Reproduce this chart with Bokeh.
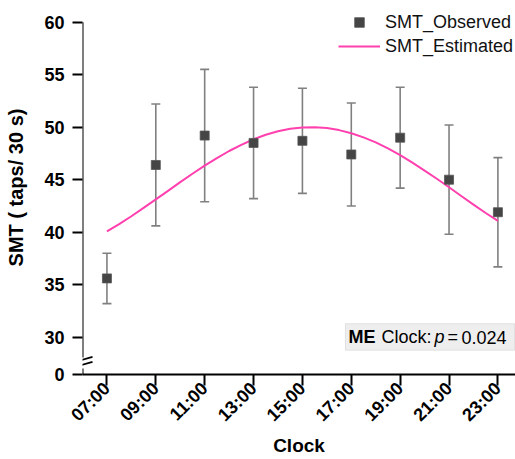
import math

from bokeh.plotting import figure
from bokeh.models import (ColumnDataSource, Whisker, TeeHead, Range1d, FixedTicker,
                          Legend, LegendItem, Label, Arrow, BoxAnnotation)
from bokeh.embed import file_html
from bokeh.resources import INLINE

# ---- data -------------------------------------------------------------
clock_hours = [7, 9, 11, 13, 15, 17, 19, 21, 23]
clock_labels = ["07:00", "09:00", "11:00", "13:00", "15:00", "17:00", "19:00", "21:00", "23:00"]
smt_observed = [35.6, 46.4, 49.2, 48.5, 48.7, 47.4, 49.0, 45.0, 41.9]
smt_error = [2.4, 5.8, 6.3, 5.3, 5.0, 4.9, 4.8, 5.2, 5.2]

# fitted rhythm, read every half hour
est_hours = [7.0, 7.5, 8.0, 8.5, 9.0, 9.5, 10.0, 10.5, 11.0, 11.5, 12.0, 12.5,
             13.0, 13.5, 14.0, 14.5, 15.0, 15.5, 16.0, 16.5, 17.0, 17.5, 18.0,
             18.5, 19.0, 19.5, 20.0, 20.5, 21.0, 21.5, 22.0, 22.5, 23.0]
smt_estimated = [40.07, 40.77, 41.52, 42.31, 43.12, 43.94, 44.77, 45.56, 46.33, 47.06,
                 47.73, 48.32, 48.85, 49.28, 49.61, 49.84, 49.97, 49.99, 49.91, 49.72,
                 49.42, 49.03, 48.55, 47.98, 47.34, 46.63, 45.87, 45.09, 44.28, 43.45,
                 42.63, 41.83, 41.07]

y_tick_values = [30, 35, 40, 45, 50, 55, 60]
y_tick_zero_label = "0"
annotation_parts = ["ME", "Clock:", "p", "=", "0.024"]

# ---- broken y axis: the "0" tick sits just below the 30-60 band --------
Y_TOP_TICK = 60.0
Y_END = 62.06               # a little head-room above the top tick for the legend
Y_ZERO_POS = 26.45          # where the 0 tick is drawn on the broken axis
X_START, X_END = 6.0, 23.72

FONT = "Liberation Sans"
GREY = "#808080"
PINK = "#ff40ae"

p = figure(width=515, height=459, output_backend="svg", toolbar_location=None,
           x_range=Range1d(X_START, X_END), y_range=Range1d(Y_ZERO_POS, Y_END),
           min_border_left=82, min_border_right=0, min_border_top=0, min_border_bottom=84)
p.outline_line_color = None
p.xgrid.visible = False
p.ygrid.visible = False
p.background_fill_color = "white"
p.border_fill_color = "white"

# error bars
lower = [m - e for m, e in zip(smt_observed, smt_error)]
upper = [m + e for m, e in zip(smt_observed, smt_error)]
src = ColumnDataSource(dict(x=clock_hours, y=smt_observed, lower=lower, upper=upper))
whisk = Whisker(base="x", lower="lower", upper="upper", source=src,
                line_color=GREY, line_width=1.6,
                upper_head=TeeHead(size=9, line_color=GREY, line_width=1.6),
                lower_head=TeeHead(size=9, line_color=GREY, line_width=1.6))
p.add_layout(whisk)

est_line = p.line(est_hours, smt_estimated, line_color=PINK, line_width=2, line_join="round")
obs = p.scatter("x", "y", source=src, marker="square", size=9,
                fill_color="#454545", line_color="#555555", line_width=0.8)

# axes
for ax in (p.xaxis[0], p.yaxis[0]):
    ax.axis_line_width = 2
    ax.axis_line_color = "black"
    ax.major_tick_line_width = 2
    ax.major_tick_line_color = "black"
    ax.major_tick_in = 0
    ax.minor_tick_out = 0
    ax.minor_tick_in = 0
    ax.major_label_text_font = FONT
    ax.major_label_text_font_style = "bold"
    ax.major_label_text_font_size = "18px"
    ax.major_label_text_color = "black"
    ax.axis_label_text_font = FONT
    ax.axis_label_text_font_style = "bold"
    ax.axis_label_text_font_size = "20px"
    ax.axis_label_text_color = "black"

p.xaxis.ticker = FixedTicker(ticks=clock_hours)
p.xaxis.major_label_overrides = {h: lab for h, lab in zip(clock_hours, clock_labels)}
p.xaxis.major_label_orientation = math.pi / 4
p.xaxis.major_tick_out = 11
p.xaxis.major_label_standoff = 0
p.xaxis.axis_label = "Clock"
p.xaxis.axis_label_text_font_size = "19px"
p.xaxis.axis_label_standoff = 0

p.yaxis.ticker = FixedTicker(ticks=[Y_ZERO_POS] + y_tick_values)
p.yaxis.major_label_overrides = {Y_ZERO_POS: y_tick_zero_label}
p.yaxis.major_tick_out = 10
p.yaxis.major_label_standoff = 8
p.yaxis.axis_label = "SMT ( taps/ 30 s)"
p.yaxis.axis_label_standoff = 14
p.yaxis.axis_line_color = None      # drawn below as two pieces with a break

# broken y-axis line with two slanted break strokes
gap_top, gap_bottom = 28.06, 27.02
for y0, y1 in ((gap_top, Y_TOP_TICK), (Y_ZERO_POS, gap_bottom)):
    p.add_layout(Arrow(end=None, x_start=X_START, y_start=y0, x_end=X_START, y_end=y1,
                       line_color="black", line_width=2, level="overlay"))
for y0 in (27.56, 27.08):
    p.add_layout(Arrow(end=None, x_start=X_START - 0.44, y_start=y0,
                       x_end=X_START + 0.41, y_end=y0 + 0.57,
                       line_color="black", line_width=1.8, level="overlay"))

# legend
legend = Legend(items=[LegendItem(label="SMT_Observed", renderers=[obs]),
                       LegendItem(label="SMT_Estimated", renderers=[est_line])],
                location=(256, 316), orientation="vertical",
                glyph_width=42, glyph_height=24, label_height=24, spacing=0,
                padding=0, margin=0, label_standoff=5,
                label_text_font=FONT, label_text_font_size="18px", label_text_color="#111111",
                border_line_color=None, background_fill_alpha=0)
p.add_layout(legend)

# statistics box
p.add_layout(BoxAnnotation(left=16.76, right=23.68, bottom=28.76, top=31.29,
                           fill_color="#eeeeee", fill_alpha=1.0,
                           line_color="#b0b0b0", line_width=1, level="annotation"))
box_y = 30.02
styles = ["bold", "normal", "italic", "normal", "normal"]
offsets = [3, 36, 89, 102, 116]
for txt, st, off in zip(annotation_parts, styles, offsets):
    p.add_layout(Label(x=16.76, y=box_y, text=txt, x_offset=off, text_baseline="middle",
                       text_font=FONT, text_font_style=st, text_font_size="18px",
                       text_color="black", level="overlay"))

open("out.html", "w").write(file_html(p, INLINE))
